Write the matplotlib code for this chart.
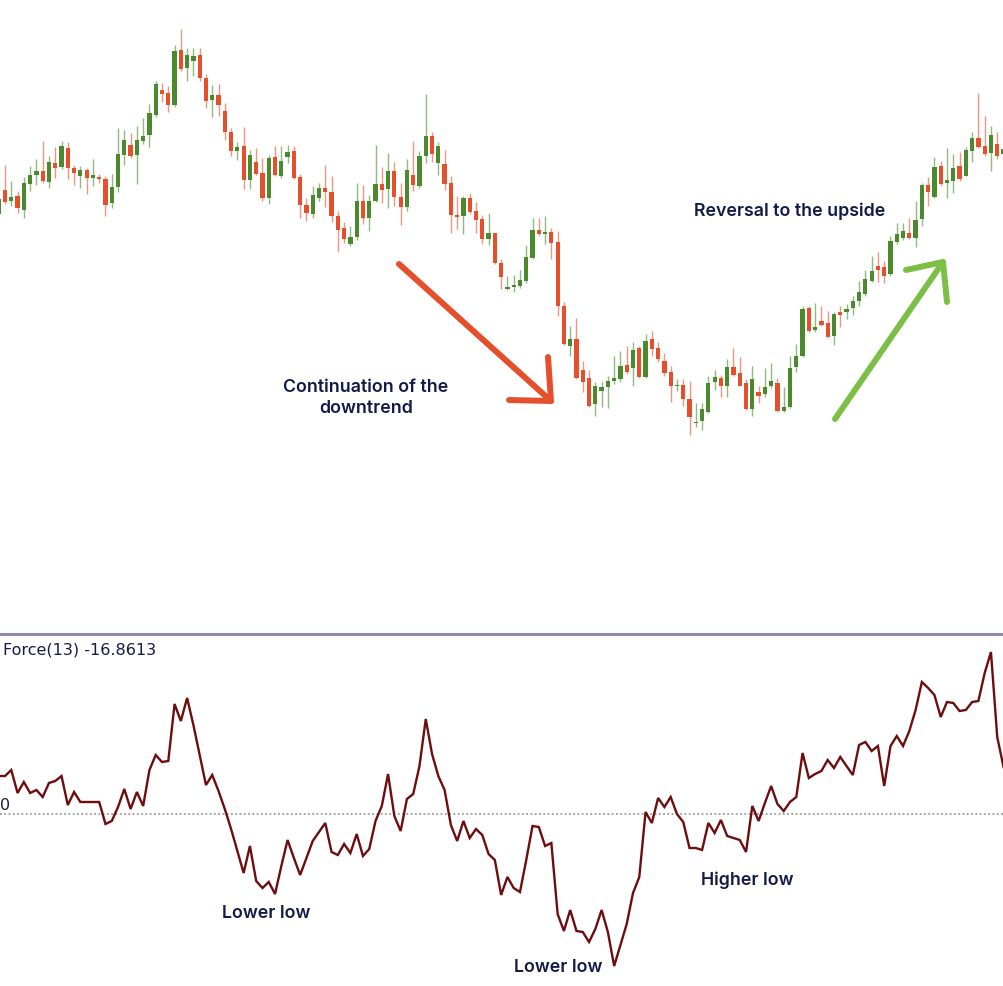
# Candlestick chart with Force Index (13) panel and trend annotations

import numpy as np
import matplotlib
matplotlib.use("Agg")
import matplotlib.pyplot as plt
from matplotlib.lines import Line2D
from matplotlib.transforms import Affine2D

W, H = 1004, 987

# --- data (price units, candle index -1 .. 159) -----------------------------
opens = [785, 809, 798, 803, 789, 815, 824, 828, 817, 836, 832,
         851, 831, 823, 829, 821, 822, 820, 796, 812, 844,
         854, 844, 858, 864, 884, 909, 906, 894, 949, 931,
         938, 944, 921, 899, 904, 888, 867, 848, 853, 819,
         837, 826, 801, 842, 823, 842, 848, 822, 794, 785,
         801, 811, 807, 783, 771, 755, 762, 798, 781, 798,
         815, 810, 828, 802, 792, 824, 813, 843, 863, 836,
         835, 816, 784, 783, 801, 788, 780, 760, 766, 736,
         710.5, 712, 713, 718, 741, 769, 765, 767, 757, 693,
         653, 660, 629, 621, 595, 608, 612, 618, 620, 634,
         631, 651, 622, 660, 651, 638, 627, 613, 614, 600,
         576, 578, 587, 617, 621, 613, 632, 626, 616, 590,
         607, 605, 613, 616, 588, 592, 632, 643, 691, 669,
         678, 676, 663, 687, 687, 691, 698, 705, 718, 733,
         732, 725, 757, 761, 766, 761, 780, 814, 802, 833,
         816, 818, 833, 823, 848, 861, 853, 846, 855, 845]
highs = [804, 834, 818, 808, 822, 833, 840, 858, 843, 852, 858,
         857, 834, 833, 831, 840, 825, 823, 825, 871, 869,
         866, 873, 881, 895, 918, 916, 913, 954, 970, 951,
         951, 951, 925, 914, 915, 896, 871, 857, 872, 849,
         851, 841, 844, 853, 853, 854, 853, 825, 801, 813,
         816, 834, 823, 788, 777, 773, 816, 814, 804, 854,
         832, 846, 837, 816, 840, 858, 848, 905, 867, 857,
         849, 823, 803, 803, 806, 797, 784, 786, 766, 740,
         723, 724, 729, 754, 781, 781, 783, 771, 768, 697,
         673, 681, 638, 629, 617, 617, 623, 643, 648, 653,
         657, 653, 665, 668, 657, 646, 633, 620, 620, 618,
         596, 596, 623, 629, 624, 640, 651, 642, 620, 633,
         613, 631, 636, 621, 612, 643, 655, 693, 693, 696,
         693, 688, 687, 693, 695, 703, 718, 729, 743, 747,
         738, 763, 776, 776, 781, 798, 816, 822, 842, 838,
         851, 845, 847, 852, 867, 906, 883, 873, 867, 863]
lows = [780, 795, 793, 786, 781, 808, 814, 816, 811, 821, 830,
        820, 814, 811, 805, 813, 816, 783, 791, 807, 834,
        841, 815, 855, 852, 882, 897, 887, 892, 928, 918,
        923, 918, 891, 882, 883, 859, 843, 839, 810, 810,
        824, 798, 795, 823, 821, 836, 820, 781, 778, 781,
        798, 792, 777, 747, 756, 753, 759, 775, 768, 797,
        796, 791, 793, 774, 788, 808, 811, 836, 837, 824,
        809, 766, 770, 765, 785, 766, 755, 754, 735, 710,
        709, 707, 711, 716, 740, 763, 755, 740, 683, 654,
        643, 620, 607, 592, 583, 592, 591, 615, 617, 625,
        613, 621, 621, 643, 637, 623, 597, 608, 593, 564,
        572, 569, 586, 609, 602, 602, 623, 613, 589, 583,
        596, 602, 611, 587, 587, 591, 627, 642, 667, 667,
        673, 661, 654, 672, 680, 684, 693, 703, 717, 717,
        716, 723, 755, 759, 760, 752, 773, 793, 801, 813,
        801, 806, 818, 823, 837, 851, 843, 828, 840, 823]
closes = [800, 797, 802, 791, 816, 824, 828, 818, 837, 831, 853,
          831, 826, 829, 821, 824, 820, 794, 812, 845, 859,
          843, 859, 863, 886, 915, 905, 894, 948, 930, 944,
          943, 921, 898, 904, 894, 867, 848, 852, 819, 844,
          825, 801, 841, 824, 838, 847, 821, 794, 786, 804,
          811, 807, 783, 769, 760, 762, 798, 781, 798, 815,
          809, 828, 802, 792, 829, 814, 843, 863, 845, 853,
          815, 784, 782, 801, 787, 779, 760, 766, 736, 722,
          711.5, 714, 719, 742, 769, 765, 767, 756, 693, 655,
          660, 621, 617, 593, 613, 612, 618, 621, 633, 627,
          649, 622, 658, 650, 640, 626, 613, 613, 600, 582,
          577, 590, 616, 622, 613, 632, 624, 613, 590, 620,
          603, 612, 618, 588, 592, 631, 643, 690, 668, 672,
          674, 662, 685, 684, 690, 698, 707, 720, 728, 729,
          723, 758, 765, 768, 761, 779, 814, 807, 832, 815,
          819, 831, 820, 849, 861, 852, 845, 864, 843, 850]
force = [38, 38, 44, 21, 32, 21, 24, 17, 31, 33, 38,
         9, 22, 12, 12, 12, 12, -10, -7, 7, 25,
         5, 22, 8, 44, 59, 52, 53, 110, 93, 116,
         89, 59, 29, 39, 23, 5, -15, -37, -59, -32,
         -67, -74, -68, -80, -52, -26, -44, -61, -44, -27,
         -18, -9, -38, -41, -30, -39, -20, -42, -35, -7,
         8, 40, -2, -17, 15, 20, 48, 95, 60, 38,
         24, -11, -27, -7, -24, -15, -21, -40, -46, -81,
         -63, -74, -78, -46, -12, -13, -32, -29, -100, -117,
         -96, -117, -118, -128, -115, -96, -118, -152, -131, -110,
         -79, -63, 2, -9, 16, 7, 17, 0, -8, -34,
         -34, -36, -9, -19, -6, -22, -24, -26, -38, 8,
         -7, 11, 28, 10, 3, 12, 17, 61, 36, 40,
         43, 54, 46, 57, 48, 39, 69, 72, 63, 68,
         28, 68, 78, 68, 83, 104, 132, 126, 119, 97,
         112, 111, 103, 104, 112, 113, 141, 162, 77, 47]

force_label = "Force(13) -16.8613"

GREEN = "#4b8a2c"
RED = "#e64f2c"
NAVY = "#141a48"

o = np.array(opens, float)
h = np.array(highs, float)
l = np.array(lows, float)
c = np.array(closes, float)
f = np.array(force, float)
idx = np.arange(-1, len(o) - 1)

# pixel <-> index mapping of the screenshot: x_px = 5 + 6.28 * i
X0, DX = 5.0, 6.28
xlim = ((0 - X0) / DX, (W - X0) / DX)

fig = plt.figure(figsize=(W / 100, H / 100), dpi=100)
fig.patch.set_facecolor("white")

# --- price panel ---------------------------------------------------------
TOP_H = 633
ax = fig.add_axes([0, 1 - TOP_H / H, 1, TOP_H / H])
ax.set_xlim(*xlim)
ax.set_ylim(1000 - TOP_H, 1000)
ax.axis("off")

up = c >= o
cols = np.where(up, GREEN, RED)
ax.vlines(idx, l, h, colors=cols, linewidth=1.0, alpha=0.6, zorder=2)
body_lo = np.minimum(o, c)
body_h = np.maximum(np.abs(c - o), 1.3)
ax.bar(idx, body_h, bottom=body_lo, width=0.68, color=cols, linewidth=0, zorder=3)

# --- force panel ---------------------------------------------------------
BOT_TOP = 636
ax2 = fig.add_axes([0, 0, 1, (H - BOT_TOP) / H])
ax2.set_xlim(*xlim)
ax2.set_ylim(815 - H, 815 - BOT_TOP)
ax2.axis("off")
ax2.axhline(0, color="#8a8a8a", linestyle=(0, (1.2, 1.6)), linewidth=1.1)
ax2.plot(idx, f, color="#6e0d0d", linewidth=1.7, solid_joinstyle="miter")

# --- overlays in screenshot pixel coordinates ----------------------------
px = Affine2D().scale(1 / W, -1 / H).translate(0, 1) + fig.transFigure

fig.add_artist(Line2D([0, W], [634.5, 634.5], transform=px,
                      color="#8c8cab", linewidth=2.2))


def arrow(x0, y0, x1, y1, a1, a2, color):
    kw = dict(transform=px, color=color, linewidth=4.3,
              solid_capstyle="round", solid_joinstyle="round")
    fig.add_artist(Line2D([x0, x1], [y0, y1], **kw))
    fig.add_artist(Line2D([a1[0], x1, a2[0]], [a1[1], y1, a2[1]], **kw))


arrow(399, 265, 551, 402, (548, 358), (509, 401), "#e64f2c")
arrow(835, 420, 943, 263, (906, 271), (947, 303), "#7cbf45")

tk = dict(transform=px, color=NAVY, fontsize=12.8, family="Inter",
          fontweight="semibold", ha="center", va="center")
fig.text(366, 398, "Continuation of the\ndowntrend", linespacing=1.35, **tk)
fig.text(790, 211, "Reversal to the upside", **tk)
fig.text(266, 914, "Lower low", **tk)
fig.text(558, 968, "Lower low", **tk)
fig.text(747, 880, "Higher low", **tk)

fig.text(3, 650, force_label, transform=px, color=NAVY, fontsize=11.5,
         family="DejaVu Sans", ha="left", va="center")
fig.text(0, 806, "0", transform=px, color=NAVY, fontsize=11.5,
         family="DejaVu Sans", ha="left", va="center")

fig.savefig("out.png", dpi=100, facecolor="white")
